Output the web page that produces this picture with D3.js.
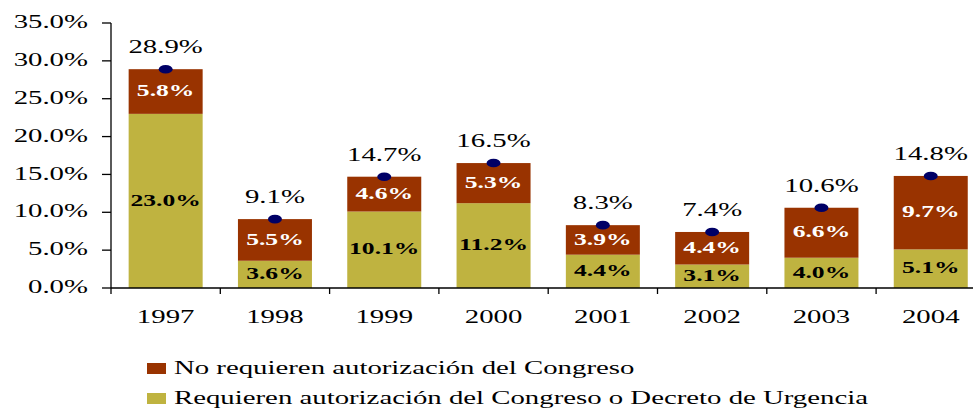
<!DOCTYPE html>
<html>
<head>
<meta charset="utf-8">
<script src="https://cdn.jsdelivr.net/npm/d3@7"></script>
<style>
	body { margin: 0; background: #fff; }
	text { font-family: "Liberation Serif", "Times New Roman", serif; }
</style>
</head>
<body>
<div id="chart"></div>
<script>
// data
const years = ['1997', '1998', '1999', '2000', '2001', '2002', '2003', '2004'];
const requieren = [23.0, 3.6, 10.1, 11.2, 4.4, 3.1, 4.0, 5.1];
const noRequieren = [5.8, 5.5, 4.6, 5.3, 3.9, 4.4, 6.6, 9.7];
const totals = [28.9, 9.1, 14.7, 16.5, 8.3, 7.4, 10.6, 14.8];
const yTicks = [0, 5, 10, 15, 20, 25, 30, 35];
const legendLabels = ['No requieren autorización del Congreso', 'Requieren autorización del Congreso o Decreto de Urgencia'];

const colors = { top: '#993300', bottom: '#bfb340', dot: '#000066' };
const stretch = 1.6; // the original text is wide, stretch it horizontally

const width = 973, height = 408;
const margin = { left: 111, top: 23 };
const plotBottom = 288;

const svg = d3.select('#chart').append('svg')
	.attr('width', width)
	.attr('height', height);

const x = d3.scaleBand()
	.domain(years)
	.range([margin.left, margin.left + 109.3 * years.length])
	.paddingInner(0)
	.paddingOuter(0);

const y = d3.scaleLinear()
	.domain([0, 35])
	.range([plotBottom, margin.top]);

const barW = 74;

function label(g, px, py, txt, opts) {
	return g.append('text')
		.attr('transform', `translate(${px},${py}) scale(${stretch},1)`)
		.attr('text-anchor', opts.anchor || 'middle')
		.attr('dominant-baseline', opts.baseline || 'auto')
		.attr('font-size', opts.size || 18)
		.attr('font-weight', opts.weight || 'normal')
		.attr('fill', opts.fill || '#000')
		.text(txt);
}

// bars
const bars = svg.append('g');
years.forEach((yr, i) => {
	const cx = x(yr) + x.bandwidth() / 2;
	const b = requieren[i], t = noRequieren[i];
	bars.append('rect')
		.attr('x', cx - barW / 2)
		.attr('y', y(b))
		.attr('width', barW)
		.attr('height', y(0) - y(b))
		.attr('fill', colors.bottom);
	bars.append('rect')
		.attr('x', cx - barW / 2)
		.attr('y', y(totals[i]))
		.attr('width', barW)
		.attr('height', y(b) - y(totals[i]))
		.attr('fill', colors.top);

	label(bars, cx, (y(0) + y(b)) / 2 + 1, b.toFixed(1) + '%', { size: 16, weight: 'bold', baseline: 'middle' });
	label(bars, cx, (y(b) + y(totals[i])) / 2 + 1, t.toFixed(1) + '%', { size: 16, weight: 'bold', baseline: 'middle', fill: '#fff' });

	bars.append('ellipse')
		.attr('cx', cx)
		.attr('cy', y(totals[i]))
		.attr('rx', 7)
		.attr('ry', 4.3)
		.attr('fill', colors.dot);

	label(bars, cx, y(totals[i]) - 16, totals[i].toFixed(1) + '%', { size: 18 });
});

// y axis
const yAxis = svg.append('g');
yAxis.append('line')
	.attr('x1', margin.left).attr('x2', margin.left)
	.attr('y1', y(35)).attr('y2', y(0))
	.attr('stroke', '#000').attr('stroke-width', 1.3);
yTicks.forEach(v => {
	yAxis.append('line')
		.attr('x1', margin.left - 9).attr('x2', margin.left)
		.attr('y1', y(v)).attr('y2', y(v))
		.attr('stroke', '#000').attr('stroke-width', 1.3);
	label(yAxis, 88, y(v) + 1, v.toFixed(1) + '%', { anchor: 'end', baseline: 'middle', size: 18 });
});

// x axis
const xAxis = svg.append('g');
xAxis.append('line')
	.attr('x1', margin.left).attr('x2', x.range()[1])
	.attr('y1', y(0)).attr('y2', y(0))
	.attr('stroke', '#000').attr('stroke-width', 1.3);
years.forEach(yr => {
	xAxis.append('line')
		.attr('x1', x(yr)).attr('x2', x(yr))
		.attr('y1', y(0)).attr('y2', y(0) + 6)
		.attr('stroke', '#000').attr('stroke-width', 1.3);
	label(xAxis, x(yr) + x.bandwidth() / 2, 323, yr, { size: 18 });
});

// legend
const legend = svg.append('g');
[colors.top, colors.bottom].forEach((c, i) => {
	const ly = 363 + i * 30;
	legend.append('rect')
		.attr('x', 147).attr('y', ly)
		.attr('width', 19).attr('height', 11)
		.attr('fill', c);
	label(legend, 174, ly + 11, legendLabels[i], { anchor: 'start', size: 18 });
});
</script>
</body>
</html>
